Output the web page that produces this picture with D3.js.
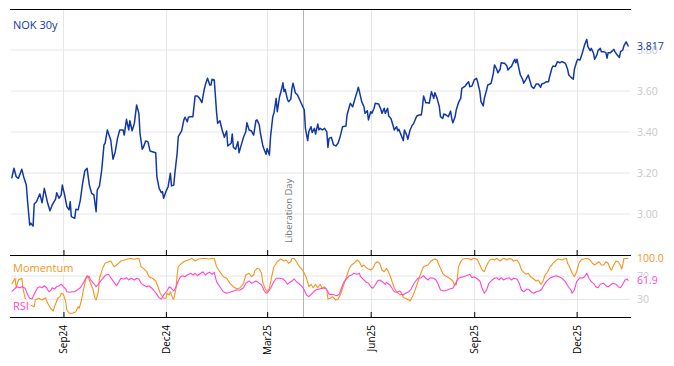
<!DOCTYPE html>
<html><head><meta charset="utf-8">
<script src="https://cdn.jsdelivr.net/npm/d3@7"></script>
<style>
body{margin:0;background:#fff}
svg{display:block}
text{font-family:"Open Sans",sans-serif}
</style>
</head><body>
<svg id="chart" width="674" height="366"></svg>
<script>
// ---------------- data (day offset from start date, value) ----------------
const startDate = "2024-07-17";
const seriesName = "NOK 30y";
const nok30y = [
[0,3.174],[2,3.223],[4,3.182],[6,3.174],[9,3.218],[11,3.174],[13,3.141],[14,3.068],[16,2.946],[17,2.955],
[19,2.941],[20,3.049],[22,3.060],[25,3.098],[27,3.055],[29,3.125],[30,3.101],[32,3.052],[34,3.016],[36,3.044],
[39,3.072],[40,3.104],[42,3.077],[44,3.093],[45,3.141],[47,3.093],[49,3.036],[51,3.020],[52,3.060],[53,2.987],
[56,2.979],[57,3.023],[59,3.020],[61,3.068],[63,3.150],[65,3.211],[67,3.223],[69,3.141],[71,3.101],[73,3.093],
[75,3.011],[76,3.117],[78,3.137],[80,3.215],[82,3.337],[83,3.345],[85,3.410],[88,3.361],[90,3.267],[92,3.304],
[94,3.369],[96,3.410],[99,3.410],[100,3.385],[102,3.462],[104,3.410],[105,3.455],[107,3.406],[109,3.442],[111,3.532],
[113,3.491],[114,3.394],[116,3.316],[117,3.325],[119,3.356],[121,3.353],[123,3.307],[125,3.304],[128,3.299],[129,3.182],
[131,3.125],[133,3.104],[134,3.109],[135,3.077],[137,3.109],[139,3.133],[141,3.199],[142,3.137],[144,3.141],[145,3.199],
[147,3.296],[148,3.377],[151,3.405],[153,3.459],[154,3.472],[156,3.450],[157,3.472],[159,3.475],[161,3.475],[163,3.576],
[165,3.576],[167,3.564],[169,3.543],[171,3.605],[172,3.629],[174,3.662],[176,3.629],[177,3.629],[178,3.657],[180,3.654],
[182,3.499],[183,3.442],[185,3.455],[187,3.410],[189,3.374],[191,3.405],[192,3.332],[195,3.345],[196,3.390],[197,3.325],
[199,3.316],[201,3.353],[202,3.299],[204,3.337],[206,3.374],[208,3.401],[209,3.445],[211,3.410],[213,3.405],[215,3.385],
[217,3.455],[218,3.459],[220,3.434],[221,3.394],[223,3.337],[224,3.320],[226,3.291],[227,3.320],[229,3.288],[230,3.377],
[232,3.475],[233,3.491],[235,3.564],[236,3.499],[238,3.572],[240,3.613],[241,3.640],[242,3.597],[243,3.608],[245,3.560],
[246,3.548],[248,3.560],[249,3.613],[250,3.638],[252,3.592],[254,3.580],[256,3.556],[258,3.532],[260,3.507],[261,3.418],
[263,3.358],[264,3.401],[266,3.426],[267,3.397],[269,3.418],[270,3.390],[272,3.439],[273,3.410],[274,3.418],[276,3.410],
[278,3.418],[280,3.401],[281,3.325],[282,3.369],[284,3.374],[286,3.337],[288,3.332],[290,3.345],[292,3.380],[294,3.426],
[297,3.429],[298,3.483],[300,3.523],[301,3.540],[303,3.523],[304,3.543],[306,3.580],[307,3.597],[308,3.618],[309,3.597],
[311,3.548],[313,3.523],[314,3.491],[316,3.504],[317,3.459],[319,3.499],[320,3.491],[322,3.516],[323,3.540],[326,3.537],
[328,3.511],[329,3.491],[331,3.516],[332,3.491],[334,3.516],[335,3.478],[337,3.466],[339,3.429],[340,3.410],[342,3.426],
[343,3.406],[344,3.413],[346,3.385],[348,3.358],[349,3.410],[351,3.385],[352,3.364],[354,3.410],[356,3.434],[357,3.439],
[359,3.466],[360,3.478],[362,3.483],[364,3.483],[365,3.523],[366,3.576],[368,3.543],[370,3.543],[371,3.540],[373,3.597],
[375,3.564],[376,3.592],[378,3.564],[380,3.523],[381,3.475],[383,3.466],[384,3.488],[386,3.483],[388,3.475],[390,3.502],
[391,3.466],[392,3.445],[394,3.475],[395,3.507],[397,3.543],[399,3.564],[400,3.613],[403,3.624],[404,3.633],[406,3.645],
[407,3.621],[409,3.624],[411,3.654],[413,3.662],[414,3.645],[416,3.597],[417,3.548],[419,3.527],[420,3.564],[422,3.605],
[423,3.629],[425,3.634],[426,3.638],[428,3.686],[429,3.727],[431,3.706],[432,3.689],[434,3.706],[435,3.738],[437,3.735],
[438,3.735],[440,3.722],[441,3.702],[443,3.716],[444,3.719],[446,3.743],[447,3.755],[448,3.738],[449,3.755],[451,3.702],
[452,3.678],[454,3.657],[455,3.638],[457,3.657],[459,3.678],[461,3.640],[462,3.621],[464,3.613],[466,3.634],[468,3.634],
[470,3.618],[471,3.634],[473,3.638],[475,3.645],[477,3.645],[478,3.670],[480,3.711],[481,3.722],[483,3.719],[485,3.743],
[487,3.738],[489,3.743],[491,3.738],[492,3.735],[494,3.706],[495,3.678],[497,3.667],[499,3.657],[500,3.706],[502,3.743],
[503,3.755],[505,3.751],[507,3.784],[509,3.824],[511,3.852],[512,3.816],[514,3.797],[515,3.808],[517,3.784],[518,3.755],
[520,3.776],[521,3.797],[523,3.808],[524,3.792],[526,3.792],[528,3.787],[529,3.760],[530,3.787],[532,3.787],[534,3.797],
[535,3.803],[536,3.792],[538,3.776],[540,3.764],[541,3.792],[543,3.800],[544,3.820],[546,3.840],[547,3.829],[548,3.817]
];
const momentum = [
[0,55.8],[3,66.1],[4,50.0],[6,63.2],[9,66.1],[10,49.0],[12,31.9],[15,21.7],[18,19.3],[20,17.6],
[21,29.0],[24,31.9],[27,29.0],[30,32.9],[32,23.4],[35,13.7],[37,10.2],[38,17.6],[41,31.9],[43,34.7],
[44,40.5],[46,38.7],[48,26.1],[49,11.9],[51,6.3],[54,6.3],[57,9.0],[59,17.6],[60,14.9],[62,29.0],
[64,49.0],[66,66.1],[68,68.8],[70,57.5],[72,49.0],[74,31.9],[75,29.0],[77,43.2],[78,66.1],[81,84.2],
[83,91.7],[85,93.4],[88,95.6],[91,85.9],[94,90.0],[97,95.6],[100,97.3],[103,99.0],[106,100],[109,98.5],
[112,100],[113,100],[115,85.9],[117,83.1],[120,77.3],[122,68.8],[125,66.1],[128,61.5],[130,51.7],[132,40.5],
[135,31.9],[137,31.9],[138,40.5],[140,37.6],[141,43.2],[143,31.9],[144,30.7],[146,49.0],[147,71.7],[148,85.9],
[151,91.7],[154,95.6],[157,97.3],[160,100],[163,95.6],[166,99.0],[169,100],[172,100],[175,99.0],[178,100],
[180,100],[182,85.9],[185,77.3],[188,68.8],[191,66.1],[194,57.5],[197,51.7],[200,47.8],[203,50.0],[206,57.5],
[208,71.7],[211,74.6],[213,68.8],[215,71.7],[216,78.5],[218,83.1],[220,81.9],[222,74.6],[223,60.3],[225,49.0],
[227,43.2],[229,49.0],[231,68.8],[233,85.9],[236,94.4],[239,99.0],[242,95.6],[244,97.3],[246,91.7],[248,94.4],
[249,100],[251,100],[253,94.4],[255,87.6],[257,83.1],[259,78.5],[262,66.1],[264,51.7],[266,55.8],[268,50.0],
[270,55.8],[272,50.0],[274,55.8],[276,49.0],[278,51.7],[280,46.1],[281,30.7],[283,31.9],[285,34.7],[288,29.0],
[290,30.7],[292,37.6],[294,49.0],[296,60.3],[298,71.7],[300,83.1],[302,88.8],[304,91.7],[307,97.3],[309,94.4],
[311,85.9],[313,88.8],[315,84.2],[317,81.9],[319,80.2],[321,83.1],[323,91.7],[325,94.4],[327,91.7],[329,80.2],
[331,77.3],[333,83.1],[334,80.2],[336,71.7],[338,60.3],[340,49.0],[342,43.2],[345,37.6],[347,38.7],[348,32.9],
[350,31.9],[353,29.0],[354,27.3],[356,34.7],[358,43.2],[360,54.6],[362,66.1],[364,77.3],[366,85.9],[368,87.6],
[370,88.8],[372,94.4],[374,97.3],[376,99.0],[378,97.3],[379,91.7],[381,83.1],[383,74.6],[385,70.5],[387,68.8],
[389,66.1],[390,64.9],[392,61.5],[393,55.8],[395,54.6],[396,66.1],[397,85.9],[399,94.4],[401,99.0],[404,100],
[406,100],[408,97.3],[410,100],[412,100],[414,97.3],[416,88.8],[418,80.2],[420,77.3],[421,83.1],[423,91.7],
[425,97.3],[427,99.0],[429,97.3],[431,100],[434,95.6],[436,99.0],[438,100],[440,97.3],[442,100],[444,99.0],
[446,95.6],[449,97.3],[451,91.7],[453,80.2],[455,76.3],[457,72.9],[459,74.6],[461,68.8],[463,66.1],[466,61.5],
[468,63.2],[470,55.8],[472,60.3],[474,71.7],[476,76.3],[478,84.2],[481,91.7],[484,97.3],[486,99.0],[489,97.3],
[491,99.0],[493,100],[494,91.7],[496,84.2],[498,74.6],[500,68.8],[502,77.3],[504,91.7],[506,97.3],[508,99.0],
[510,100],[512,100],[514,97.3],[516,91.7],[518,88.8],[520,91.7],[522,94.4],[524,88.8],[526,88.8],[528,94.4],
[530,91.7],[532,81.9],[533,80.2],[535,88.8],[537,95.6],[539,94.4],[541,87.6],[542,81.9],[543,88.8],[544,100],
[546,100],[548,100]
];
const rsi = [
[0,43.2],[3,49.0],[5,51.7],[7,50.0],[9,51.7],[12,49.0],[14,38.7],[16,31.9],[18,30.7],[20,38.7],
[23,50.0],[25,51.7],[27,50.0],[29,53.4],[31,50.0],[33,43.2],[35,46.1],[36,50.0],[38,47.8],[40,51.7],
[42,53.4],[44,55.8],[46,51.7],[48,47.8],[49,43.2],[52,42.2],[54,43.2],[56,43.2],[58,46.1],[61,50.0],
[63,55.8],[65,63.2],[67,70.5],[69,68.8],[70,63.2],[72,59.2],[74,54.6],[75,51.7],[77,55.8],[79,61.5],
[81,66.1],[83,70.5],[84,71.7],[86,72.9],[88,67.1],[91,59.2],[93,53.4],[95,59.2],[97,66.1],[100,64.9],
[102,67.1],[104,63.2],[106,66.1],[109,63.2],[111,66.1],[113,64.9],[115,57.5],[117,54.6],[120,51.7],[122,53.4],
[124,50.0],[126,46.1],[129,38.7],[131,32.9],[133,30.7],[135,37.6],[138,44.4],[140,51.7],[142,49.0],[144,44.4],
[146,51.7],[148,61.5],[150,68.8],[152,70.5],[154,68.8],[156,71.7],[159,74.6],[161,71.7],[163,74.6],[165,70.5],
[168,74.6],[170,77.3],[172,71.7],[174,74.6],[176,76.3],[178,72.9],[180,76.3],[182,60.3],[185,51.7],[188,43.2],
[191,40.5],[194,42.2],[197,44.4],[200,46.1],[203,46.1],[206,50.0],[208,57.5],[211,61.5],[213,57.5],[215,59.2],
[217,61.5],[219,59.2],[222,54.6],[224,46.1],[226,40.5],[228,43.2],[230,49.0],[233,60.3],[235,66.1],[238,66.1],
[241,64.9],[243,61.5],[245,55.8],[247,59.2],[249,61.5],[251,64.9],[253,60.3],[255,57.5],[258,51.7],[260,46.1],
[262,37.6],[264,34.7],[267,40.5],[270,46.1],[273,47.8],[276,49.0],[279,49.0],[281,43.2],[282,38.7],[285,38.7],
[287,37.6],[289,36.4],[291,38.7],[293,49.0],[295,59.2],[298,66.1],[300,70.5],[302,71.7],[304,74.6],[307,72.9],
[309,74.6],[310,68.8],[313,63.2],[315,59.2],[317,57.5],[319,51.7],[321,49.0],[323,54.6],[325,61.5],[327,63.2],
[330,59.2],[332,55.8],[333,59.2],[336,54.6],[338,49.0],[340,43.2],[342,42.2],[345,44.4],[347,38.7],[348,37.6],
[350,40.5],[353,43.2],[355,47.8],[357,55.8],[359,61.5],[361,66.1],[364,67.1],[366,70.5],[368,66.1],[370,63.2],
[372,67.1],[375,66.1],[377,63.2],[379,55.8],[381,46.1],[384,44.4],[387,46.1],[389,47.8],[392,49.0],[394,55.8],
[396,63.2],[398,67.1],[401,68.8],[404,70.5],[407,72.9],[409,67.1],[411,68.8],[413,66.1],[416,61.5],[418,49.0],
[420,40.5],[422,46.1],[424,57.5],[427,63.2],[429,66.1],[431,67.1],[433,63.2],[435,67.1],[437,63.2],[440,66.1],
[442,67.1],[444,63.2],[446,66.1],[449,64.9],[451,57.5],[453,46.1],[455,43.2],[458,47.8],[460,46.1],[462,42.2],
[464,40.5],[466,43.2],[469,44.4],[471,47.8],[473,54.6],[475,60.3],[478,66.1],[481,68.8],[484,70.5],[486,68.8],
[489,66.1],[492,60.3],[494,53.4],[497,46.1],[498,40.5],[500,46.1],[502,60.3],[505,67.1],[507,66.1],[509,68.8],
[511,74.6],[513,66.1],[515,60.3],[517,57.5],[519,51.7],[521,50.0],[523,55.8],[526,57.5],[528,53.4],[530,51.7],
[532,54.6],[534,57.5],[537,55.8],[539,51.7],[541,50.0],[543,55.8],[545,63.2],[547,64.9],[548,61.9]
];
const priceTicks = [3.00, 3.20, 3.40, 3.60, 3.80];
const oscTicks = [30, 70];
const monthTicks = ["2024-09-01","2024-12-01","2025-03-01","2025-06-01","2025-09-01","2025-12-01"];
const eventDate = "2025-04-02";
const eventLabel = "Liberation Day";
const momentumName = "Momentum", rsiName = "RSI";

// ---------------- layout & style ----------------
const W = 674, H = 366;
const L = 11, R = 630;
const mainTop = 9, mainBot = 255, oscBot = 317;
const C = {price:"#1238a8", mom:"#f7931e", rsi:"#ff45d2", grid:"#e6e6e6", tick:"#c8c8c8"};

const svg = d3.select("#chart");
const t0 = d3.isoParse(startDate);
const toDate = d => d3.utcDay.offset(t0, d);

const x = d3.scaleUtc()
  .domain([toDate(0), toDate(548)])
  .range([11.7, 628.4]);
const y = d3.scaleLinear().domain([2.8, 4.0]).range([mainBot, mainTop]);
const yo = d3.scaleLinear().domain([0, 105]).range([oscBot, 255.5]);

const tickDates = monthTicks.map(d3.isoParse);

// grids
const g = svg.append("g");
g.selectAll(".hg").data(priceTicks).join("line")
  .attr("x1", L).attr("x2", R).attr("y1", d => y(d)).attr("y2", d => y(d))
  .attr("stroke", C.grid).attr("stroke-width", 1);
g.selectAll(".og").data(oscTicks).join("line")
  .attr("x1", L).attr("x2", R).attr("y1", d => yo(d)).attr("y2", d => yo(d))
  .attr("stroke", C.grid).attr("stroke-width", 1);
g.selectAll(".vg").data(tickDates).join("line")
  .attr("x1", d => Math.round(x(d)) + 0.5).attr("x2", d => Math.round(x(d)) + 0.5)
  .attr("y1", mainTop).attr("y2", oscBot)
  .attr("stroke", C.grid).attr("stroke-width", 1);

// event line
const ex = Math.round(x(d3.isoParse(eventDate))) + 0.5;
svg.append("line").attr("x1", ex).attr("x2", ex).attr("y1", mainTop).attr("y2", oscBot)
  .attr("stroke", "#b4b4b4").attr("stroke-width", 1);

// lines
const lineP = d3.line().x(d => x(toDate(d[0]))).y(d => y(d[1]));
const lineO = d3.line().x(d => x(toDate(d[0]))).y(d => yo(d[1]));
svg.append("path").datum(momentum).attr("d", lineO).attr("fill", "none")
  .attr("stroke", C.mom).attr("stroke-width", 1.1).attr("stroke-linejoin", "round");
svg.append("path").datum(rsi).attr("d", lineO).attr("fill", "none")
  .attr("stroke", C.rsi).attr("stroke-width", 1.1).attr("stroke-linejoin", "round");
svg.append("path").datum(nok30y).attr("d", lineP).attr("fill", "none")
  .attr("stroke", C.price).attr("stroke-width", 1.5).attr("stroke-linejoin", "round");

// event label
const evg = svg.append("g").attr("transform", `translate(${ex - 12},243) rotate(-90)`);
evg.append("text").text(eventLabel).attr("font-size", 9.5).attr("fill", "#777")
  .attr("text-anchor", "start");

// panel borders + axes ticks
[mainTop, mainBot, oscBot].forEach(yy => {
  svg.append("line").attr("x1", L - 1).attr("x2", R + 1).attr("y1", yy + 0.5).attr("y2", yy + 0.5)
    .attr("stroke", "#000").attr("stroke-width", 1.2);
});
const axTop = svg.append("g").attr("transform", `translate(0,${mainBot})`)
  .call(d3.axisBottom(x).tickValues(tickDates).tickSize(-5).tickFormat(""));
const axBot = svg.append("g").attr("transform", `translate(0,${oscBot})`)
  .call(d3.axisBottom(x).tickValues(tickDates).tickSize(-5).tickFormat(d3.utcFormat("%b%y")));
[axTop, axBot].forEach(a => { a.select(".domain").remove(); a.selectAll(".tick line").attr("stroke", "#000"); });
axBot.selectAll(".tick text")
  .attr("transform", "rotate(-90)")
  .attr("text-anchor", "end")
  .attr("x", -8).attr("y", 0).attr("dy", "0.35em")
  .attr("font-size", 10).attr("font-family", "Open Sans, sans-serif").attr("fill", "#000");

// right price labels
svg.selectAll(".pl").data(priceTicks).join("text")
  .attr("x", 637).attr("y", d => y(d)).attr("dy", "0.35em")
  .attr("font-size", 10.5).attr("fill", C.tick).text(d => d.toFixed(2));
svg.selectAll(".ol").data(oscTicks).join("text")
  .attr("x", 637).attr("y", d => yo(d)).attr("dy", "0.35em")
  .attr("font-size", 10.5).attr("fill", C.tick).text(d => d);

// last value labels
const lastP = nok30y[nok30y.length - 1][1];
const lastM = momentum[momentum.length - 1][1];
const lastR = rsi[rsi.length - 1][1];
svg.append("text").attr("x", 637).attr("y", y(lastP)).attr("dy", "0.35em")
  .attr("font-size", 10.5).attr("fill", C.price).text(lastP.toFixed(3));
svg.append("text").attr("x", 637).attr("y", yo(lastM)).attr("dy", "0.35em")
  .attr("font-size", 10.5).attr("fill", C.mom).text(lastM.toFixed(1));
svg.append("rect").attr("x", 634).attr("y", yo(lastR) - 5).attr("width", 30).attr("height", 11).attr("fill", "#fff");
svg.append("text").attr("x", 637).attr("y", yo(lastR)).attr("dy", "0.35em")
  .attr("font-size", 10.5).attr("fill", C.rsi).text(lastR.toFixed(1));

// panel titles
svg.append("rect").attr("x", L + 1).attr("y", mainTop + 2).attr("width", 50).attr("height", 25).attr("fill", "#fff");
svg.append("text").attr("x", 13).attr("y", 29).attr("font-size", 11).attr("fill", C.price).text(seriesName);
svg.append("rect").attr("x", L + 1).attr("y", 261).attr("width", 63).attr("height", 14).attr("fill", "#fff").attr("opacity", 0.7);
svg.append("text").attr("x", 13).attr("y", 272).attr("font-size", 11).attr("fill", C.mom).text(momentumName);
svg.append("rect").attr("x", L + 1).attr("y", 299).attr("width", 19).attr("height", 13).attr("fill", "#fff").attr("opacity", 0.7);
svg.append("text").attr("x", 13).attr("y", 310).attr("font-size", 11).attr("fill", C.rsi).text(rsiName);
</script>
</body></html>
